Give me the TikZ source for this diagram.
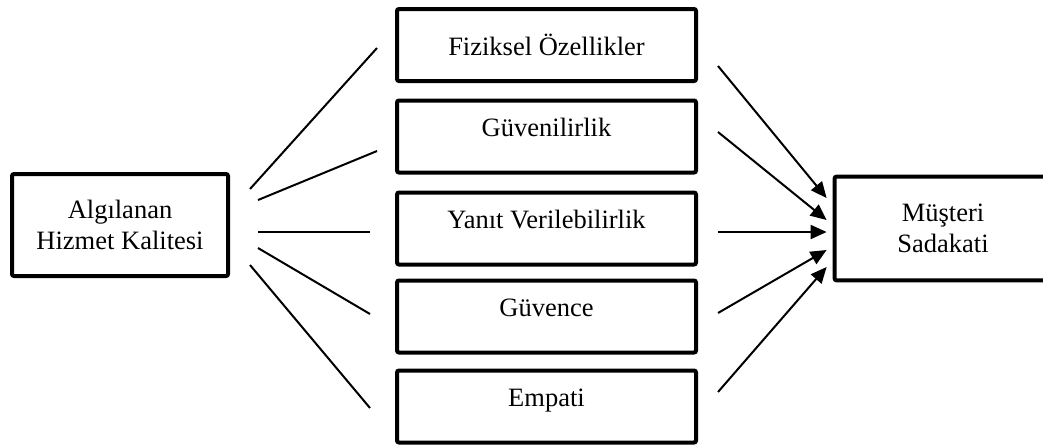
\documentclass[tikz,border=0pt]{standalone}
\usepackage{fontspec}
\setmainfont{Liberation Serif}
\usetikzlibrary{arrows.meta}

\begin{document}
\begin{tikzpicture}[
  x=0.5pt, y=-0.5pt,
  font=\fontsize{13.25}{15.5}\selectfont,
  kenar/.style={draw=black, line width=2pt, rounded corners=1pt},
  kutu/.style={kenar, align=center, inner sep=0pt},
  boyut/.style={kutu, minimum width=149.5pt, minimum height=36pt},
  yukari/.style={text depth=9pt},
  hat/.style={line width=1pt},
  ok/.style={-{Triangle[length=8pt,width=7pt]}, line width=1pt},
]
\useasboundingbox (0,0) rectangle (1043,447);
\clip (0,0) rectangle (1043,447);

% ---- main constructs ----
\node[kutu, minimum width=108pt, minimum height=51pt] (AHK) at (120,225) {Algılanan\\Hizmet Kalitesi};
\node[align=center, inner sep=0pt, minimum width=108pt, minimum height=51.5pt] (MS) at (943,228.5) {Müşteri\\Sadakati};
% box runs past the right edge of the figure
\draw[kenar] ([xshift=20pt]MS.north east) -- (MS.north west) -- (MS.south west) -- ([xshift=20pt]MS.south east);

% ---- dimensions ----
\node[boyut]         (B1) at (546.5,45)    {Fiziksel Özellikler};
\node[boyut, yukari] (B2) at (546.5,136.5) {Güvenilirlik};
\node[boyut, yukari] (B3) at (546.5,228.5) {Yanıt Verilebilirlik};
\node[boyut, yukari] (B4) at (546.5,316.5) {Güvence};
\node[boyut, yukari] (B5) at (546.5,406.5) {Empati};

% ---- lines (no heads) ----
\foreach \b/\sx/\sy/\ex/\ey in {B1/20/-36/-18/3, B2/28/-25/-18/14.5,
    B3/28/7/-25/3.5, B4/28/23/-25/-2.5, B5/20/40/-25/1.5}
  \draw[hat] ([shift={(\sx,\sy)}]AHK.east) -- ([shift={(\ex,\ey)}]\b.west);

% ---- arrows ----
\foreach \b/\sx/\sy/\ex/\ey in {B1/20/21/-8/-30.5, B2/20/-4.5/-8/-8.5,
    B3/20/3.5/-8/3.5, B4/20/-3.5/-8/21.5, B5/20/-14.5/-8/38.5}
  \draw[ok] ([shift={(\sx,\sy)}]\b.east) -- ([shift={(\ex,\ey)}]MS.west);
\end{tikzpicture}
\end{document}
